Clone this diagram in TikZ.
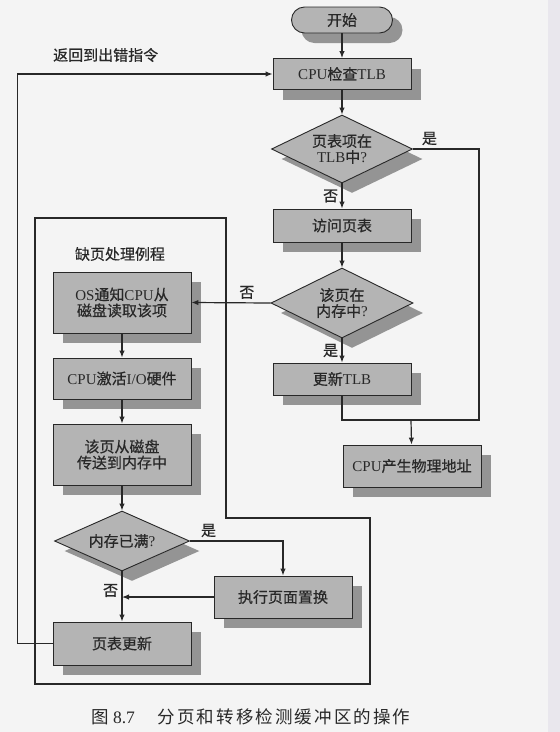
\documentclass[tikz,border=0pt]{standalone}
\usepackage{fontspec}
\setmainfont{Liberation Serif}
\newfontfamily\cjk{Noto Sans CJK SC}[FakeBold=0.6]
\newfontfamily\cjkcap{Noto Sans CJK SC}[LetterSpace=12]
\newcommand\zh[1]{{\cjk #1}}
\usetikzlibrary{arrows.meta,shapes.geometric,shadows}
\definecolor{boxgray}{RGB}{180,180,180}
\definecolor{shadegray}{RGB}{148,148,148}
\definecolor{inkgray}{RGB}{40,40,40}
\definecolor{paper}{RGB}{244,244,244}
\definecolor{pageedge}{RGB}{233,231,237}
\tikzstyle{block} = [draw=inkgray, fill=boxgray, rectangle, line width=0.9pt,
    minimum width=138pt, minimum height=33pt, align=center,
    drop shadow={shadow xshift=10pt, shadow yshift=-10pt, fill=shadegray, opacity=1}]
\tikzstyle{decision} = [draw=inkgray, fill=boxgray, diamond, aspect=2, inner sep=0pt,
    line width=0.9pt, minimum width=141pt, minimum height=68pt, align=center,
    drop shadow={shadow xshift=10pt, shadow yshift=-10pt, fill=shadegray, opacity=1}]
\tikzstyle{terminal} = [block, rounded corners=13pt, minimum width=101pt, minimum height=26pt]
\tikzstyle{flow} = [draw=inkgray, line width=1.2pt]

\begin{document}
\begin{tikzpicture}[x=1pt, y=-1pt, >={Latex[length=7pt,width=5.5pt]}, node distance=76pt,
    font=\fontsize{15}{16}\selectfont, text=inkgray]
    \fill [paper] (0,0) rectangle (560,732);
    \useasboundingbox (0,0) rectangle (560,732);
    \fill [pageedge] (548,0) rectangle (560,732);
    % main column
    \node [terminal] (start) at (342,20) {\zh{开始}};
    \node [block, below of=start, node distance=54pt, minimum height=31pt] (check) {CPU\zh{检查}TLB};
    \node [decision, below of=check, node distance=75pt] (intlb) {\zh{页表项在}\\TLB\zh{中}?};
    \node [block, below of=intlb, node distance=76.5pt] (access) {\zh{访问页表}};
    \node [decision, below of=access, node distance=77.5pt,
            minimum width=142pt, minimum height=70pt] (inmem) {\zh{该页在}\\\zh{内存中}?};
    \node [block, below of=inmem, node distance=76pt, minimum height=32pt] (update) {\zh{更新}TLB};
    \node [block, minimum height=42pt] (phys) at (412,466) {CPU\zh{产生物理地址}};
    % page fault routine
    \node [block, minimum height=61pt] (os) at (122,302.5) {OS\zh{通知}CPU\zh{从}\\\zh{磁盘读取该项}};
    \node [block, below of=os, minimum height=41pt] (activate) {CPU\zh{激活}I/O\zh{硬件}};
    \node [block, below of=activate, minimum height=61pt] (transfer) {\zh{该页从磁盘}\\\zh{传送到内存中}};
    \node [decision, below of=transfer, node distance=86.5pt,
            minimum width=135pt, minimum height=60pt] (full) {\zh{内存已满}?};
    \node [block, below of=full, node distance=102.5pt, minimum height=43pt] (ptupdate) {\zh{页表更新}};
    \node [block, minimum height=42pt] (replace) at (283,597) {\zh{执行页面置换}};
    % labels
    \node [anchor=west, inner sep=0pt] (backlbl) at (53,55) {\zh{返回到出错指令}};
    \node (routinelbl) at (120,254) {\zh{缺页处理例程}};
    \node [font=\fontsize{17.5}{19}\selectfont, anchor=west, inner sep=0pt] (caption) at (91,717)
        {{\cjkcap 图}~8.7\hspace{1.3em}{\cjkcap 分页和转移检测缓冲区的操作}};
    \coordinate (join) at (411,420);
    % connectors
    \draw [flow, ->] (start) -- (check);
    \draw [flow, ->] (check) -- (intlb);
    \draw [flow, ->] (intlb) -- node [left] {\zh{否}} (access);
    \draw [flow] (intlb.east) -- node [above, pos=0.25] {\zh{是}} (intlb.east -| 479,0)
        |- (update.south |- join) -- (update.south);
    \draw [flow, ->] (join) -- (phys);
    \draw [flow, ->] (access) -- (inmem);
    \draw [flow, ->] (inmem.west) -- node [above, pos=0.3] {\zh{否}} (os.east);
    \draw [flow, ->] (inmem) -- node [left] {\zh{是}} (update);
    \draw [flow, ->] (os) -- (activate);
    \draw [flow, ->] (activate) -- (transfer);
    \draw [flow, ->] (transfer) -- (full);
    \draw [flow, ->] (full.east) -- node [above, pos=0.2] {\zh{是}} (full.east -| replace) -- (replace);
    \draw [flow, ->] (full) -- node [left, pos=0.38] {\zh{否}} (ptupdate);
    \draw [flow, ->] (replace.west) -- (replace.west -| full.south);
    \draw [flow, ->] (ptupdate.west) -- ++(-35,0) |- (check.west);
    % routine frame
    \draw [flow] (35,218) -- (226,218) -- (226,518) -- (370,518) -- (370,684) -- (35,684) -- cycle;
\end{tikzpicture}
\end{document}
